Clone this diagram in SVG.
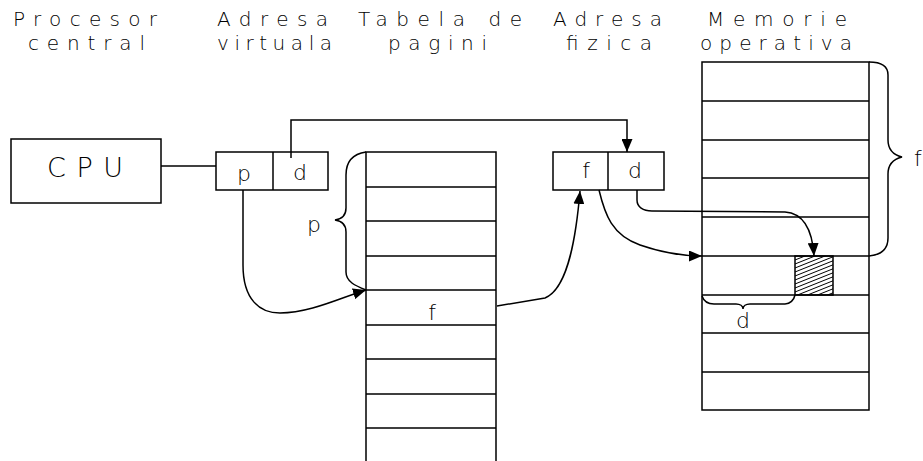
<svg xmlns="http://www.w3.org/2000/svg" width="923" height="461" viewBox="0 0 923 461">
<style>
.ln{fill:none;stroke:#000;stroke-width:1.5}
.bx{fill:#fff;stroke:#000;stroke-width:1.5}
.hd{font-family:"DejaVu Sans",sans-serif;font-weight:200;font-size:20px;fill:#000}
.lt{font-family:"DejaVu Sans",sans-serif;font-weight:200;font-size:22px;fill:#000;text-anchor:middle}
.ht{stroke:#000;stroke-width:1}
</style>
<defs>
<marker id="ah" markerUnits="userSpaceOnUse" markerWidth="13" markerHeight="11" refX="13" refY="5.5" orient="auto">
<path d="M0,0 L13,5.5 L0,11 z" fill="#000"/>
</marker>
<clipPath id="hc"><rect x="795" y="256" width="38" height="39"/></clipPath>
</defs>
<rect width="923" height="461" fill="#fff"/>
<g id="headers">
<text class="hd" x="13" y="26" textLength="144" lengthAdjust="spacing">Procesor</text>
<text class="hd" x="28" y="50" textLength="117" lengthAdjust="spacing">central</text>
<text class="hd" x="217" y="26" textLength="111" lengthAdjust="spacing">Adresa</text>
<text class="hd" x="217" y="50" textLength="115" lengthAdjust="spacing">virtuala</text>
<text class="hd" x="358" y="26" textLength="164" lengthAdjust="spacing">Tabela de</text>
<text class="hd" x="388" y="50" textLength="99" lengthAdjust="spacing">pagini</text>
<text class="hd" x="553" y="26" textLength="109" lengthAdjust="spacing">Adresa</text>
<text class="hd" x="566" y="50" textLength="86" lengthAdjust="spacing">fizica</text>
<text class="hd" x="707" y="26" textLength="140" lengthAdjust="spacing">Memorie</text>
<text class="hd" x="700" y="50" textLength="152" lengthAdjust="spacing">operativa</text>
</g>
<g id="cpu">
<rect class="bx" x="11" y="139" width="150" height="64"/>
<text class="hd" x="47" y="177" style="font-size:27px" textLength="76" lengthAdjust="spacing">CPU</text>
</g>
<g id="virtual">
<rect class="bx" x="216" y="152" width="112" height="38"/>
<line class="ln" x1="273" y1="152" x2="273" y2="190"/>
<text class="lt" x="244" y="181">p</text>
<text class="lt" x="300" y="180">d</text>
</g>
<g id="pagetable">
<path class="ln" d="M366,461 L366,152 L496,152 L496,461"/>
<path class="ln" d="M366,187 H496 M366,221 H496 M366,256 H496 M366,290 H496 M366,325 H496 M366,359 H496 M366,394 H496 M366,428 H496"/>
<text class="lt" x="432" y="320">f</text>
</g>
<g id="physical">
<rect class="bx" x="553" y="152" width="111" height="38"/>
<line class="ln" x1="608" y1="152" x2="608" y2="190"/>
<text class="lt" x="586" y="178">f</text>
<text class="lt" x="635" y="178">d</text>
</g>
<g id="memory">
<rect class="bx" x="702" y="62" width="167" height="348"/>
<path class="ln" d="M702,101 H869 M702,140 H869 M702,178 H869 M702,217 H869 M702,256 H869 M702,295 H869 M702,333 H869 M702,372 H869"/>
<g clip-path="url(#hc)">
<path class="ht" d="M790,262 L840,242 M790,266 L840,246 M790,270 L840,250 M790,274 L840,254 M790,278 L840,258 M790,282 L840,262 M790,286 L840,266 M790,290 L840,270 M790,294 L840,274 M790,298 L840,278 M790,302 L840,282 M790,306 L840,286 M790,310 L840,290 M790,314 L840,294"/>
</g>
<rect x="795" y="256" width="38" height="39" fill="none" stroke="#000" stroke-width="1.5"/>
</g>
<g id="braces">
<path class="ln" d="M366,152 C352,154 346,162 346,175 L346,208 C346,215 342,219 335,220 C342,221 346,225 346,232 L346,272 C346,282 356,286 366,290"/>
<text class="lt" x="314" y="232">p</text>
<path class="ln" d="M869,62 C882,62 888,66 888,75 L888,140 C888,150 894,155 902,157 C894,159 888,164 888,174 L888,238 C888,250 880,255 869,256"/>
<text class="hd" x="914" y="166" style="font-size:22px">f</text>
<path class="ln" d="M702,296 C704,302 708,304 714,304 L736,304 C740,304 743,306 743,309 C743,306 746,304 750,304 L785,304 C790,304 794,300 795,295"/>
<text class="lt" x="743" y="328">d</text>
</g>
<g id="connectors">
<path class="ln" d="M161,166 L216,166"/>
<path class="ln" d="M291,158 L291,120 L627,120 L627,152" marker-end="url(#ah)"/>
<path class="ln" d="M243,190 L243,265 C243,300 260,313 280,313 C310,313 340,298 366,290" marker-end="url(#ah)"/>
<path class="ln" d="M497,306 L545,298 C565,290 575,250 580,191" marker-end="url(#ah)"/>
<path class="ln" d="M599,190 C605,215 612,235 640,245 C660,252 680,256 702,256" marker-end="url(#ah)"/>
<path class="ln" d="M637,190 L637,200 C637,207 643,211 652,211 L785,212 C800,213 812,225 814,256" marker-end="url(#ah)"/>
</g>
</svg>
